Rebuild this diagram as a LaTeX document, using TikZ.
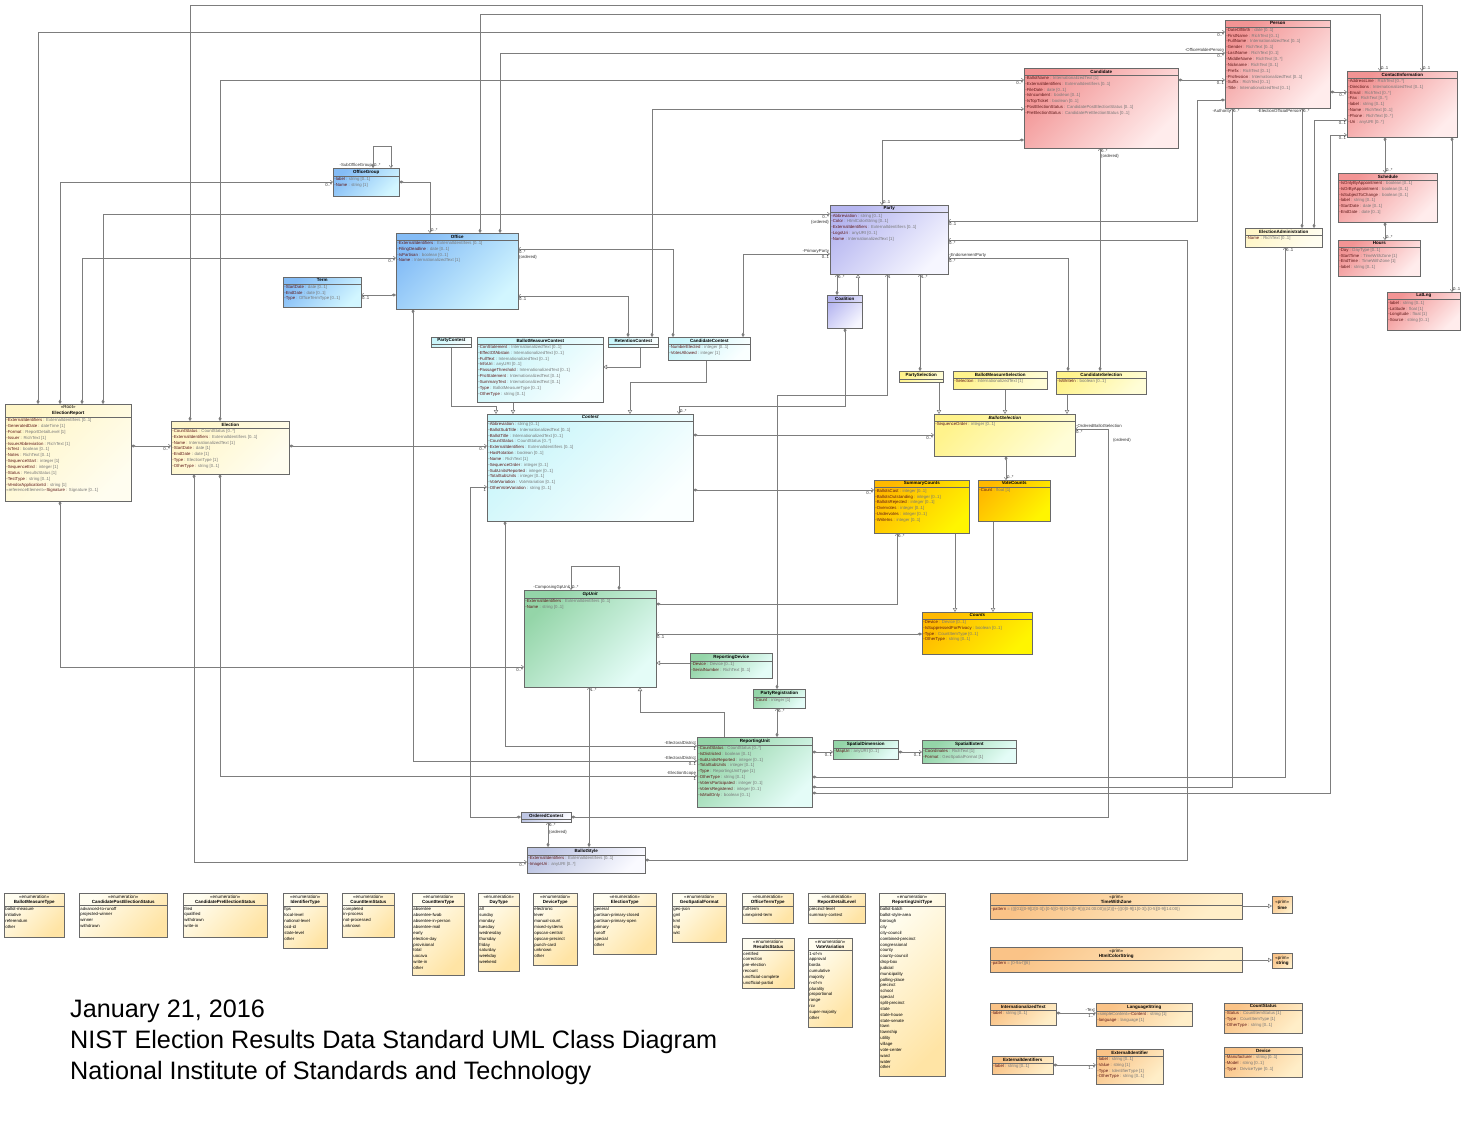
\documentclass[tikz,border=0pt]{standalone}
\usepackage{fontspec}
\setmainfont{Liberation Sans}
\usetikzlibrary{arrows.meta, calc, shadows}
\definecolor{boxline}{RGB}{105,105,105}
\definecolor{lncol}{RGB}{125,125,125}
\definecolor{atname}{RGB}{95,25,25}
\definecolor{attype}{RGB}{120,120,120}
\definecolor{pinkA}{RGB}{242,148,148}
\definecolor{pinkB}{RGB}{255,236,236}
\definecolor{lavA}{RGB}{182,182,240}
\definecolor{lavB}{RGB}{246,246,255}
\definecolor{blueA}{RGB}{132,188,246}
\definecolor{blueB}{RGB}{210,246,255}
\definecolor{cyanA}{RGB}{200,245,250}
\definecolor{cyanB}{RGB}{250,255,255}
\definecolor{creamA}{RGB}{255,246,200}
\definecolor{creamB}{RGB}{255,253,240}
\definecolor{yelA}{RGB}{255,243,140}
\definecolor{yelB}{RGB}{255,253,215}
\definecolor{goldA}{RGB}{255,185,0}
\definecolor{goldB}{RGB}{255,245,0}
\definecolor{greenA}{RGB}{148,213,168}
\definecolor{greenB}{RGB}{228,252,247}
\definecolor{slateA}{RGB}{190,198,228}
\definecolor{slateB}{RGB}{250,250,255}
\definecolor{enumA}{RGB}{255,253,240}
\definecolor{enumB}{RGB}{255,228,165}
\definecolor{primA}{RGB}{250,195,135}
\definecolor{primB}{RGB}{255,238,200}
\newcommand{\atfont}{\fontsize{4.3}{5.85}\selectfont}
\newcommand{\ttlfont}{\fontsize{4.5}{5.6}\selectfont\bfseries}
\newcommand{\attr}[2]{\textcolor{atname}{-#1} \textcolor{attype}{: #2}}
% class box: name, x, y, width, height, fill style, title, attributes
\newcommand{\umlclass}[8]{%
  \node[box,#6,minimum width=#4pt,minimum height=#5pt] (#1) at (#2,#3) {};
  \node[ctitle] (#1-t) at (#1.north) {#7};
  \draw[sepline] (#1-t.south -| #1.west) -- (#1-t.south -| #1.east);
  \node[cattr] (#1-a) at (#1-t.south -| #1.west) {#8};
}
\newcommand{\umlenum}[7]{\umlclass{#1}{#2}{#3}{#4}{#5}{fenum}{{\mdseries «enumeration»}\\#6}{#7}}

\begin{document}
\begin{tikzpicture}[x=1pt, y=-1pt,
    box/.style={draw=boxline, line width=0.5pt, anchor=north west, inner sep=0pt,
                drop shadow={shadow xshift=1.2pt, shadow yshift=-1.2pt, fill=black!40, opacity=0.5}},
    ctitle/.style={anchor=north, align=center, inner xsep=1pt, inner ysep=1.6pt, font=\ttlfont},
    cattr/.style={anchor=north west, align=left, inner sep=1.2pt, font=\atfont},
    sepline/.style={draw=boxline, line width=0.4pt},
    fpink/.style={top color=pinkA, bottom color=pinkB, shading angle=45},
    flav/.style={top color=lavA, bottom color=lavB, shading angle=45},
    fblue/.style={top color=blueA, bottom color=blueB, shading angle=45},
    fcyan/.style={top color=cyanA, bottom color=cyanB, shading angle=45},
    fcream/.style={top color=creamA, bottom color=creamB, shading angle=45},
    fyel/.style={top color=yelA, bottom color=yelB, shading angle=45},
    fgold/.style={top color=goldA, bottom color=goldB, shading angle=45},
    fgreen/.style={top color=greenA, bottom color=greenB, shading angle=45},
    fslate/.style={top color=slateA, bottom color=slateB, shading angle=45},
    fenum/.style={top color=enumA, bottom color=enumB, shading angle=45},
    fprim/.style={top color=primA, bottom color=primB, shading angle=45},
    asc/.style={draw=lncol, line width=0.55pt},
    cmp/.style={asc, {Diamond[length=4.5pt,width=3pt]}-{Straight Barb[length=2.2pt,width=3.4pt]}},
    gen/.style={asc, -{Triangle[open,length=4pt,width=4.4pt,fill=white]}},
    mult/.style={font=\atfont, inner sep=0.8pt, text=black!80},
    bigtxt/.style={font=\fontsize{25.2}{30}\selectfont, inner sep=0pt}
  ]
  \fill[white] (0,0) rectangle (1467,1139);
  \useasboundingbox (0,0) rectangle (1467,1139);

  % ---- connectors first (boxes drawn on top) ----
  \draw[cmp] (190,421) |- (1422,5) -- (1422,71) node[mult,anchor=south west] (m1) {0..1};
  \draw[cmp] (480,233) |- (1380,14) -- (1380,71) node[mult,anchor=south west] (m2) {0..1};
  \draw[cmp] (38,404) |- (1225,32) node[mult,anchor=north east] (m3) {0..*};
  \draw[cmp] (500,233) |- (1225,53) node[mult,anchor=south east] (r4) {-OfficeHolderPerson} node[mult,anchor=north east] (m4) {0..*};
  \draw[cmp] (220,421) |- (1024,80) node[mult,anchor=north east] (m5) {0..*};
  \draw[cmp] (1178,80) -- (1225,80) node[mult,anchor=north east] (m6) {0..1};
  \draw[cmp] (1225,100) -| (1197,221) -- (948,221) node[mult,anchor=north west] (m7) {0..1};
  \draw[cmp] (60,404) |- (333,182) node[mult,anchor=north east] (m8) {0..*};
  \draw[cmp] (373,168) node[mult,anchor=south east] (r9) {-SubOfficeGroup} node[mult,anchor=south west] (m9) {0..*}
        |- (391,146) -- (391,168);
  \draw[cmp] (399,182) -| (430,233) node[mult,anchor=south west] (m10) {0..*};
  \draw[cmp] (82,404) |- (396,258) node[mult,anchor=north east] (m11) {0..*};
  \draw[cmp] (103,404) |- (830,214) node[mult,anchor=north east] (m12) {0..*}
        node[mult,anchor=north east,yshift=-5.5pt] (o12) {\{ordered\}};
  \draw[cmp] (396,295) -- (361,295) node[mult,anchor=north west] (m13) {0..1};
  \draw[cmp] (673,337) |- (518,249) node[mult,anchor=north west] (m14) {0..*}
        node[mult,anchor=north west,yshift=-5.5pt] (o14) {\{ordered\}};
  \draw[cmp] (628,337) |- (518,296) node[mult,anchor=north west] (m15) {0..1};
  \draw[cmp] (652,337) |- (1024,109);
  \draw[cmp] (743,337) |- (830,254) node[mult,anchor=south east] (r17) {-PrimaryParty} node[mult,anchor=north east] (m17) {0..1};
  \draw[cmp] (1024,140) -| (882,205) node[mult,anchor=south west] (m18) {0..1};
  \draw[cmp] (1100,371) -- (1100,148) node[mult,anchor=north west] (m19) {0..*}
        node[mult,anchor=north west,yshift=-5.5pt] (o19) {\{ordered\}};
  \draw[cmp] (1068,371) |- (948,258) node[mult,anchor=south west] (r20) {-EndorsementParty} node[mult,anchor=north west] (m20) {0..*};
  \draw[cmp] (920,371) -- (920,274) node[mult,anchor=north west] (m21) {1..*};
  \draw[gen] (858,295) -- (858,274);
  \draw[cmp] (837,295) -- (837,274) node[mult,anchor=north west] (m22) {0..*};
  \draw[cmp] (845,328) |- (679,406) -- (679,414) node[mult,anchor=south west] (m23) {0..*};
  \draw[cmp] (777,689) |- (887,395) -- (887,274) node[mult,anchor=north west] (m24) {1};
  % generalisations of contests and selections
  \draw[gen] (451,347) |- (496,406) -- (496,414);
  \draw[gen] (513,402) -- (513,414);
  \draw[gen] (640,347) |- (603,367);
  \draw[gen] (706,360) |- (630,382) -- (630,414);
  \draw[gen] (939,382) -- (939,414);
  \draw[gen] (1005,389) -- (1005,414);
  \draw[gen] (1067,394) -- (1067,414);
  \draw[cmp] (693,435) -- (934,435) node[mult,anchor=north east] (m27) {0..*};
  \draw[cmp] (693,490) -- (874,490) node[mult,anchor=north east] (m28) {0..*};
  \draw[cmp] (1006,456) -- (1006,480) node[mult,anchor=south west] (m29) {0..*};
  \draw[cmp] (571,817) -| (1108,429) -- (1075,429) node[mult,anchor=south west] (r30) {-OrderedBallotSelection}
        node[mult,anchor=north west] (m30) {0..*};
  \node[mult,anchor=west] (o30) at (1112,440) {(ordered)};
  \draw[cmp] (548,847) -- (548,822) node[mult,anchor=north west] (m31) {0..*}
        node[mult,anchor=north west,yshift=-7pt] (o31) {\{ordered\}};
  % gp units
  \draw[cmp] (619,590) |- (571,566) -- (571,590) node[mult,anchor=south east] (r32) {-ComposingGpUnit}
        node[mult,anchor=south west] (m32) {0..*};
  \draw[cmp] (656,604) -| (897,533) node[mult,anchor=north west] (m33) {0..*};
  \draw[cmp] (922,634) -- (656,634) node[mult,anchor=north west] (m34) {0..1};
  \draw[gen] (690,663) -- (656,663);
  \draw[gen] (955,533) -- (955,612);
  \draw[gen] (993,521) -- (993,612);
  \draw[cmp] (60,501) |- (524,667) node[mult,anchor=north east] (m37) {0..*};
  \draw[cmp] (589,847) -- (589,687) node[mult,anchor=north west] (m38) {1..*};
  \draw[gen] (724,737) |- (640,712) -- (640,687);
  \draw[cmp] (777,737) -- (777,708) node[mult,anchor=north west] (m40) {0..*};
  \draw[cmp] (812,752) -- (833,752) node[mult,anchor=north east] (m41) {0..1};
  \draw[cmp] (898,752) -- (922,752) node[mult,anchor=north east] (m42) {0..1};
  \draw[cmp] (505,521) |- (697,746) node[mult,anchor=south east] (r43) {-ElectoralDistrict} node[mult,anchor=north east] (m43) {1};
  \draw[cmp] (413,309) |- (697,761) node[mult,anchor=south east] (r44) {-ElectoralDistrict} node[mult,anchor=north east] (m44) {0..1};
  \draw[cmp] (220,474) |- (697,776) node[mult,anchor=south east] (r45) {-ElectionScope} node[mult,anchor=north east] (m45) {1};
  \draw[cmp] (194,474) |- (527,862) node[mult,anchor=north east] (m46) {0..*};
  \draw[cmp] (645,860) -| (1187,240) -- (948,240) node[mult,anchor=north west] (m47) {0..*};
  \draw[cmp] (289,446) -- (487,446) node[mult,anchor=north east] (m48) {0..*};
  \draw[cmp] (521,817) -| (470,487) -- (487,487) node[mult,anchor=north east] (m49) {1};
  \draw[cmp] (131,446) -- (171,446) node[mult,anchor=north east] (m50) {0..*};
  % person, contact information and administration
  \draw[cmp] (812,787) -| (1232,108) node[mult,anchor=north east] (r51) {-Authority} node[mult,anchor=north west] (m51) {0..*};
  \draw[cmp] (1302,228) -- (1302,108) node[mult,anchor=north east] (r52) {-ElectionOfficialPerson} node[mult,anchor=north west] (m52) {0..*};
  \draw[cmp] (1314,228) |- (1347,120) node[mult,anchor=north east] (m53) {0..1};
  \draw[cmp] (812,793) -| (1330,135) -- (1347,135) node[mult,anchor=north east] (m54) {0..1};
  \draw[cmp] (1330,92) -- (1347,92) node[mult,anchor=north east] (m55) {0..*};
  \draw[cmp] (1385,137) -- (1385,173) node[mult,anchor=south west] (m56) {0..*};
  \draw[cmp] (1385,222) -- (1385,240) node[mult,anchor=south west] (m57) {0..*};
  \draw[cmp] (1452,137) -- (1452,292) node[mult,anchor=south west] (m58) {0..1};
  \draw[cmp] (812,777) -| (1285,247) node[mult,anchor=north west] (m59) {0..1};
  % data types
  \draw[cmp] (1056,1013) -- (1096,1013) node[mult,anchor=south east] (r60) {-Text} node[mult,anchor=north east] (m60) {1..*};
  \draw[cmp] (1053,1065) -- (1096,1065) node[mult,anchor=north east] (m61) {1..*};
  \draw[gen] (1242,906) -- (1272,906);
  \draw[gen] (1242,960) -- (1272,960);

  % ---- classes ----
  \umlclass{person}{1225}{20}{105}{88}{fpink}{Person}{\attr{DateOfBirth}{date [0..1]}\\\attr{FirstName}{RichText [0..1]}\\\attr{FullName}{InternationalizedText [0..1]}\\\attr{Gender}{RichText [0..1]}\\\attr{LastName}{RichText [0..1]}\\\attr{MiddleName}{RichText [0..*]}\\\attr{Nickname}{RichText [0..1]}\\\attr{Prefix}{RichText [0..1]}\\\attr{Profession}{InternationalizedText [0..1]}\\\attr{Suffix}{RichText [0..1]}\\\attr{Title}{InternationalizedText [0..1]}}
  \umlclass{ci}{1347}{71}{110}{66}{fpink}{ContactInformation}{\attr{AddressLine}{RichText [0..*]}\\\attr{Directions}{InternationalizedText [0..1]}\\\attr{Email}{RichText [0..*]}\\\attr{Fax}{RichText [0..*]}\\\attr{label}{string [0..1]}\\\attr{Name}{RichText [0..1]}\\\attr{Phone}{RichText [0..*]}\\\attr{Uri}{anyURI [0..*]}}
  \umlclass{cand}{1024}{68}{154}{80}{fpink}{Candidate}{\attr{BallotName}{InternationalizedText [1]}\\\attr{ExternalIdentifiers}{ExternalIdentifiers [0..1]}\\\attr{FileDate}{date [0..1]}\\\attr{IsIncumbent}{boolean [0..1]}\\\attr{IsTopTicket}{boolean [0..1]}\\\attr{PostElectionStatus}{CandidatePostElectionStatus [0..1]}\\\attr{PreElectionStatus}{CandidatePreElectionStatus [0..1]}}
  \umlclass{sched}{1338}{173}{99}{49}{fpink}{Schedule}{\attr{IsOnlyByAppointment}{boolean [0..1]}\\\attr{IsOrByAppointment}{boolean [0..1]}\\\attr{IsSubjectToChange}{boolean [0..1]}\\\attr{label}{string [0..1]}\\\attr{StartDate}{date [0..1]}\\\attr{EndDate}{date [0..1]}}
  \umlclass{hours}{1338}{240}{82}{36}{fpink}{Hours}{\attr{Day}{DayType [0..1]}\\\attr{StartTime}{TimeWithZone [1]}\\\attr{EndTime}{TimeWithZone [1]}\\\attr{label}{string [0..1]}}
  \umlclass{eadm}{1245}{228}{77}{19}{fcream}{ElectionAdministration}{\attr{Name}{RichText [0..1]}}
  \umlclass{latlng}{1387}{292}{73}{38}{fpink}{LatLng}{\attr{label}{string [0..1]}\\\attr{Latitude}{float [1]}\\\attr{Longitude}{float [1]}\\\attr{Source}{string [0..1]}}
  \umlclass{party}{830}{205}{118}{69}{flav}{Party}{\attr{Abbreviation}{string [0..1]}\\\attr{Color}{HtmlColorString [0..1]}\\\attr{ExternalIdentifiers}{ExternalIdentifiers [0..1]}\\\attr{LogoUri}{anyURI [0..1]}\\\attr{Name}{InternationalizedText [1]}}
  \umlclass{coal}{827}{295}{35}{33}{flav}{Coalition}{}
  \umlclass{ogroup}{333}{168}{66}{28}{fblue}{OfficeGroup}{\attr{label}{string [0..1]}\\\attr{Name}{string [1]}}
  \umlclass{office}{396}{233}{122}{76}{fblue}{Office}{\attr{ExternalIdentifiers}{ExternalIdentifiers [0..1]}\\\attr{FilingDeadline}{date [0..1]}\\\attr{IsPartisan}{boolean [0..1]}\\\attr{Name}{InternationalizedText [1]}}
  \umlclass{term}{283}{277}{78}{30}{fblue}{Term}{\attr{StartDate}{date [0..1]}\\\attr{EndDate}{date [0..1]}\\\attr{Type}{OfficeTermType [0..1]}}
  \umlclass{report}{5}{404}{126}{97}{fcream}{{\mdseries «Root»}\\ElectionReport}{\attr{ExternalIdentifiers}{ExternalIdentifiers [0..1]}\\\attr{GeneratedDate}{dateTime [1]}\\\attr{Format}{ReportDetailLevel [1]}\\\attr{Issuer}{RichText [1]}\\\attr{IssuerAbbreviation}{RichText [1]}\\\attr{IsTest}{boolean [0..1]}\\\attr{Notes}{RichText [0..1]}\\\attr{SequenceStart}{integer [1]}\\\attr{SequenceEnd}{integer [1]}\\\attr{Status}{ResultsStatus [1]}\\\attr{TestType}{string [0..1]}\\\attr{VendorApplicationId}{string [1]}\\\textcolor{attype}{«referenceElement»}\attr{Signature}{Signature [0..1]}}
  \umlclass{election}{171}{421}{118}{53}{fcream}{Election}{\attr{CountStatus}{CountStatus [0..*]}\\\attr{ExternalIdentifiers}{ExternalIdentifiers [0..1]}\\\attr{Name}{InternationalizedText [1]}\\\attr{StartDate}{date [1]}\\\attr{EndDate}{date [1]}\\\attr{Type}{ElectionType [1]}\\\attr{OtherType}{string [0..1]}}
  \umlclass{pcontest}{431}{337}{40}{10}{fcyan}{PartyContest}{}
  \umlclass{bmcontest}{477}{337}{126}{65}{fcyan}{BallotMeasureContest}{\attr{ConStatement}{InternationalizedText [0..1]}\\\attr{EffectOfAbstain}{InternationalizedText [0..1]}\\\attr{FullText}{InternationalizedText [0..1]}\\\attr{InfoUri}{anyURI [0..1]}\\\attr{PassageThreshold}{InternationalizedText [0..1]}\\\attr{ProStatement}{InternationalizedText [0..1]}\\\attr{SummaryText}{InternationalizedText [0..1]}\\\attr{Type}{BallotMeasureType [0..1]}\\\attr{OtherType}{string [0..1]}}
  \umlclass{rcontest}{608}{337}{50}{10}{fcyan}{RetentionContest}{}
  \umlclass{ccontest}{668}{337}{82}{23}{fcyan}{CandidateContest}{\attr{NumberElected}{integer [0..1]}\\\attr{VotesAllowed}{integer [1]}}
  \umlclass{contest}{487}{414}{206}{107}{fcyan}{\textit{Contest}}{\attr{Abbreviation}{string [0..1]}\\\attr{BallotSubTitle}{InternationalizedText [0..1]}\\\attr{BallotTitle}{InternationalizedText [0..1]}\\\attr{CountStatus}{CountStatus [0..*]}\\\attr{ExternalIdentifiers}{ExternalIdentifiers [0..1]}\\\attr{HasRotation}{boolean [0..1]}\\\attr{Name}{RichText [1]}\\\attr{SequenceOrder}{integer [0..1]}\\\attr{SubUnitsReported}{integer [0..1]}\\\attr{TotalSubUnits}{integer [0..1]}\\\attr{VoteVariation}{VoteVariation [0..1]}\\\attr{OtherVoteVariation}{string [0..1]}}
  \umlclass{psel}{899}{371}{44}{11}{fyel}{PartySelection}{}
  \umlclass{bmsel}{953}{371}{94}{18}{fyel}{BallotMeasureSelection}{\attr{Selection}{InternationalizedText [1]}}
  \umlclass{csel}{1056}{371}{90}{23}{fyel}{CandidateSelection}{\attr{IsWriteIn}{boolean [0..1]}}
  \umlclass{bsel}{934}{414}{141}{42}{fyel}{\textit{BallotSelection}}{\attr{SequenceOrder}{integer [0..1]}}
  \umlclass{scounts}{874}{480}{95}{53}{fgold}{SummaryCounts}{\attr{BallotsCast}{integer [0..1]}\\\attr{BallotsOutstanding}{integer [0..1]}\\\attr{BallotsRejected}{integer [0..1]}\\\attr{Overvotes}{integer [0..1]}\\\attr{Undervotes}{integer [0..1]}\\\attr{WriteIns}{integer [0..1]}}
  \umlclass{vcounts}{978}{480}{72}{41}{fgold}{VoteCounts}{\attr{Count}{float [1]}}
  \umlclass{gpunit}{524}{590}{132}{97}{fgreen}{\textit{GpUnit}}{\attr{ExternalIdentifiers}{ExternalIdentifiers [0..1]}\\\attr{Name}{string [0..1]}}
  \umlclass{rdevice}{690}{653}{82}{25}{fgreen}{ReportingDevice}{\attr{Device}{Device [0..1]}\\\attr{SerialNumber}{RichText [0..1]}}
  \umlclass{counts}{922}{612}{110}{42}{fgold}{\textit{Counts}}{\attr{Device}{Device [0..1]}\\\attr{IsSuppressedForPrivacy}{boolean [0..1]}\\\attr{Type}{CountItemType [0..1]}\\\attr{OtherType}{string [0..1]}}
  \umlclass{preg}{753}{689}{52}{19}{fgreen}{PartyRegistration}{\attr{Count}{integer [1]}}
  \umlclass{runit}{697}{737}{115}{70}{fgreen}{ReportingUnit}{\attr{CountStatus}{CountStatus [0..*]}\\\attr{IsDistricted}{boolean [0..1]}\\\attr{SubUnitsReported}{integer [0..1]}\\\attr{TotalSubUnits}{integer [0..1]}\\\attr{Type}{ReportingUnitType [1]}\\\attr{OtherType}{string [0..1]}\\\attr{VotersParticipated}{integer [0..1]}\\\attr{VotersRegistered}{integer [0..1]}\\\attr{IsMailOnly}{boolean [0..1]}}
  \umlclass{sdim}{833}{740}{65}{19}{fgreen}{SpatialDimension}{\attr{MapUri}{anyURI [0..1]}}
  \umlclass{sext}{922}{740}{94}{23}{fgreen}{SpatialExtent}{\attr{Coordinates}{RichText [1]}\\\attr{Format}{GeoSpatialFormat [1]}}
  \umlclass{ocontest}{521}{812}{50}{10}{fslate}{OrderedContest}{}
  \umlclass{bstyle}{527}{847}{118}{26}{fslate}{BallotStyle}{\attr{ExternalIdentifiers}{ExternalIdentifiers [0..1]}\\\attr{ImageUri}{anyURI [0..*]}}

  % ---- enumerations ----
  \umlenum{bmtype}{4}{893}{60}{44}{BallotMeasureType}{ballot-measure\\initiative\\referendum\\other}
  \umlenum{cpost}{79}{893}{88}{44}{CandidatePostElectionStatus}{advanced-to-runoff\\projected-winner\\winner\\withdrawn}
  \umlenum{cpre}{183}{893}{84}{44}{CandidatePreElectionStatus}{filed\\qualified\\withdrawn\\write-in}
  \umlenum{idtype}{283}{893}{44}{55}{IdentifierType}{fips\\local-level\\national-level\\ocd-id\\state-level\\other}
  \umlenum{cistatus}{342}{893}{52}{44}{CountItemStatus}{completed\\in-process\\not-processed\\unknown}
  \umlenum{citype}{412}{893}{52}{82}{CountItemType}{absentee\\absentee-fwab\\absentee-in-person\\absentee-mail\\early\\election-day\\provisional\\total\\uocava\\write-in\\other}
  \umlenum{daytype}{478}{893}{41}{78}{DayType}{all\\sunday\\monday\\tuesday\\wednesday\\thursday\\friday\\saturday\\weekday\\weekend}
  \umlenum{devtype}{533}{893}{44}{72}{DeviceType}{electronic\\lever\\manual-count\\mixed-systems\\opscan-central\\opscan-precinct\\punch-card\\unknown\\other}
  \umlenum{eltype}{593}{893}{63}{61}{ElectionType}{general\\partisan-primary-closed\\partisan-primary-open\\primary\\runoff\\special\\other}
  \umlenum{geofmt}{672}{893}{54}{49}{GeoSpatialFormat}{geo-json\\gml\\kml\\shp\\wkt}
  \umlenum{ottype}{742}{893}{51}{30}{OfficeTermType}{full-term\\unexpired-term}
  \umlenum{rdlevel}{808}{893}{57}{30}{ReportDetailLevel}{precinct-level\\summary-contest}
  \umlenum{rstatus}{742}{938}{52}{50}{ResultsStatus}{certified\\correction\\pre-election\\recount\\unofficial-complete\\unofficial-partial}
  \umlenum{vvar}{808}{938}{44}{89}{VoteVariation}{1-of-m\\approval\\borda\\cumulative\\majority\\n-of-m\\plurality\\proportional\\range\\rcv\\super-majority\\other}
  \umlenum{rutype}{879}{893}{66}{183}{ReportingUnitType}{ballot-batch\\ballot-style-area\\borough\\city\\city-council\\combined-precinct\\congressional\\county\\county-council\\drop-box\\judicial\\municipality\\polling-place\\precinct\\school\\special\\split-precinct\\state\\state-house\\state-senate\\town\\township\\utility\\village\\vote-center\\ward\\water\\other}

  % ---- primitive and data types ----
  \umlclass{twz}{990}{893}{252}{26}{fprim}{{\mdseries «prim»}\\TimeWithZone}{\textcolor{atname}{-pattern} \textcolor{attype}{= ((([01][0-9]|2[0-3]):[0-5][0-9]:[0-5][0-9])|(24:00:00))((Z)|[+-]((0[0-9]|1[0-3]):[0-5][0-9]|14:00))}}
  \node[box,fprim,minimum width=20pt,minimum height=17pt,align=center,font=\ttlfont] (time) at (1272,896) {{\mdseries «prim»}\\time};
  \umlclass{hcs}{990}{947}{252}{25}{fprim}{{\mdseries «prim»}\\HtmlColorString}{\textcolor{atname}{-pattern} \textcolor{attype}{= [0-9a-f]\{6\}}}
  \node[box,fprim,minimum width=20pt,minimum height=15pt,align=center,font=\ttlfont] (str) at (1272,953) {{\mdseries «prim»}\\string};
  \umlclass{itext}{990}{1003}{66}{22}{fprim}{InternationalizedText}{\attr{label}{string [0..1]}}
  \umlclass{lstring}{1096}{1003}{96}{23}{fprim}{LanguageString}{\textcolor{attype}{«simpleContent»}\attr{Content}{string [1]}\\\attr{language}{language [1]}}
  \umlclass{cstatus}{1224}{1003}{78}{30}{fprim}{CountStatus}{\attr{Status}{CountItemStatus [1]}\\\attr{Type}{CountItemType [1]}\\\attr{OtherType}{string [0..1]}}
  \umlclass{eids}{992}{1056}{61}{18}{fprim}{ExternalIdentifiers}{\attr{label}{string [0..1]}}
  \umlclass{eid}{1096}{1049}{67}{35}{fprim}{ExternalIdentifier}{\attr{label}{string [0..1]}\\\attr{Value}{string [1]}\\\attr{Type}{IdentifierType [1]}\\\attr{OtherType}{string [0..1]}}
  \umlclass{device}{1224}{1047}{78}{30}{fprim}{Device}{\attr{Manufacturer}{string [0..1]}\\\attr{Model}{string [0..1]}\\\attr{Type}{DeviceType [0..1]}}

  % ---- caption ----
  \node[bigtxt,anchor=base west] (date) at (70,1017) {January 21, 2016};
  \node[bigtxt,anchor=base west] (heading) at (70,1048) {NIST Election Results Data Standard UML Class Diagram};
  \node[bigtxt,anchor=base west] (inst) at (70,1079) {National Institute of Standards and Technology};
\end{tikzpicture}
\end{document}
